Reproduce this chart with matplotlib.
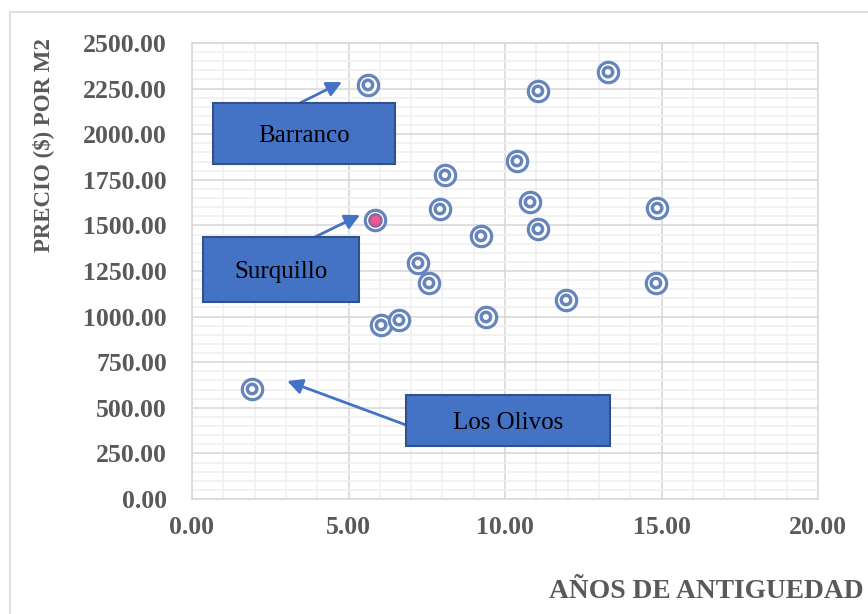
import matplotlib.pyplot as plt
from matplotlib.patches import Rectangle
from matplotlib.ticker import MultipleLocator, FormatStrFormatter

# años de antigüedad vs precio por m2, por distrito
anios = [1.92, 5.62, 5.85, 6.04, 6.61, 7.22, 7.57, 7.92, 8.08, 9.23,
         9.39, 10.38, 10.80, 11.05, 11.05, 11.95, 13.29, 14.86, 14.82]
precio = [603, 2270, 1530, 954, 981, 1294, 1184, 1590, 1776, 1442,
          998, 1853, 1628, 2237, 1480, 1091, 2341, 1595, 1184]

# puntos señalados: (nombre, índice en las listas)
destacados = [('Barranco', 1), ('Surquillo', 2), ('Los Olivos', 0)]
resaltado = 2  # Surquillo va con relleno rosado

W, H = 868, 614
ring = '#6785bd'
label_gray = '#595959'
serif = ['Liberation Serif', 'DejaVu Serif']

fig = plt.figure(figsize=(W / 100, H / 100), dpi=100)

# borde del área de gráfico
fig.add_artist(Rectangle((10 / W, -0.05), 1.05, 1 - 12 / H + 0.05,
                         transform=fig.transFigure, fill=False,
                         edgecolor='#d9d9d9', linewidth=1.2, zorder=0))

ax = fig.add_axes([192 / W, (H - 499) / H, 626 / W, 456 / H])
ax.set_xlim(0, 20)
ax.set_ylim(0, 2500)

ax.xaxis.set_major_locator(MultipleLocator(5))
ax.xaxis.set_minor_locator(MultipleLocator(1))
ax.yaxis.set_major_locator(MultipleLocator(250))
ax.yaxis.set_minor_locator(MultipleLocator(50))
ax.xaxis.set_major_formatter(FormatStrFormatter('%.2f'))
ax.yaxis.set_major_formatter(FormatStrFormatter('%.2f'))

ax.grid(which='minor', color='#f0f0f0', linewidth=1.2)
ax.grid(which='major', color='#d9d9d9', linewidth=1.2)
ax.set_axisbelow(True)
for s in ax.spines.values():
    s.set_color('#d9d9d9')
    s.set_linewidth(1.2)

ax.tick_params(which='both', length=0)
ax.tick_params(axis='y', pad=18)
ax.tick_params(axis='x', pad=12)
for lab in ax.get_xticklabels() + ax.get_yticklabels():
    lab.set_family(serif)
    lab.set_fontweight('bold')
    lab.set_fontsize(18.5)
    lab.set_color(label_gray)

# marcadores de doble círculo
ax.scatter(anios, precio, s=215, facecolors='white', edgecolors=ring,
           linewidths=2.3, zorder=3)
ax.scatter(anios, precio, s=46, facecolors='none', edgecolors=ring,
           linewidths=2.5, zorder=4)
ax.scatter([anios[resaltado]], [precio[resaltado]], s=75,
           facecolors='#ee5a8d', edgecolors='#8a67a8', linewidths=1.8,
           zorder=5)

fig.text(43 / W, 1 - 145 / H, 'PRECIO ($) POR M2', rotation=90,
         ha='center', va='center', family=serif, fontweight='bold',
         fontsize=16.5, color=label_gray)
fig.text(549 / W, 1 - 591 / H, 'AÑOS DE ANTIGUEDAD', ha='left',
         va='center', family=serif, fontweight='bold', fontsize=19.8,
         color=label_gray)

# cajas de texto: (x0, y0, x1, y1) en píxeles, cola de flecha, desfase de la punta
cajas = {
    'Barranco': ((213, 103, 395, 164), (300, 103), (-0.83, 16)),
    'Surquillo': ((203, 237, 359, 302), (315, 237), (-0.48, 27)),
    'Los Olivos': ((406, 395, 610, 446), (406, 425), (1.12, 44)),
}

for nombre, i in destacados:
    (x0, y0, x1, y1), cola, (dx, dy) = cajas[nombre]
    fig.add_artist(Rectangle((x0 / W, 1 - y1 / H), (x1 - x0) / W,
                             (y1 - y0) / H, transform=fig.transFigure,
                             facecolor='#4472c4', edgecolor='#2f528f',
                             linewidth=1.5, zorder=6))
    fig.text((x0 + x1) / 2 / W, 1 - (y0 + y1 + 5) / 2 / H, nombre,
             ha='center', va='center', family=serif, fontsize=18,
             color='black', zorder=7)
    ax.annotate('', xy=(anios[i] + dx, precio[i] + dy),
                xytext=(cola[0], H - cola[1]), textcoords='figure pixels',
                arrowprops=dict(arrowstyle='-|>,head_length=0.9,head_width=0.45',
                                color='#4472c4', lw=2, shrinkA=0, shrinkB=0),
                annotation_clip=False, zorder=6)

fig.savefig('out.png', dpi=100)
